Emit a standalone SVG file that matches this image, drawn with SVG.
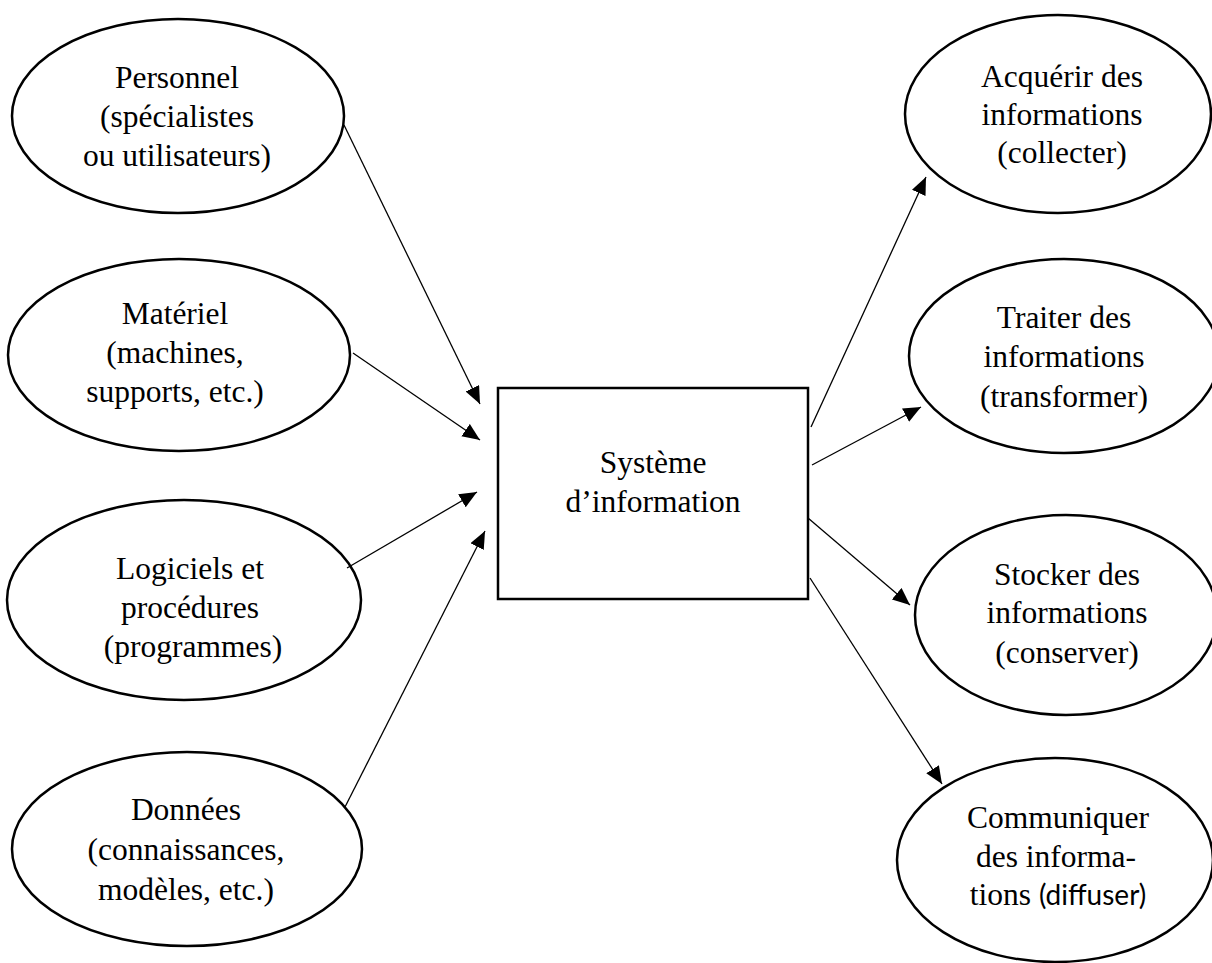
<svg xmlns="http://www.w3.org/2000/svg" width="1212" height="963" viewBox="0 0 1212 963">
  <style>
    .node { fill: #fff; stroke: #000; stroke-width: 2.5; }
    .lbl { font-family: "Liberation Serif", "Times New Roman", serif; font-size: 31.5px; fill: #000; text-anchor: middle; }
    .sans { font-family: Lato, "Liberation Sans", sans-serif; font-size: 28px; }
    .edge { stroke: #000; stroke-width: 1.3; fill: none; marker-end: url(#arrow); }
  </style>
  <defs>
    <marker id="arrow" markerUnits="userSpaceOnUse" markerWidth="19" markerHeight="16" refX="17.5" refY="7.5" orient="auto">
      <path d="M0,0 L17.5,7.5 L0,15 Z" fill="#000"/>
    </marker>
  </defs>
  <rect width="1212" height="963" fill="#fff"/>

  <!-- inputs of the system -->
  <g id="personnel">
    <ellipse class="node" cx="178" cy="116" rx="166" ry="97"/>
    <text class="lbl"><tspan x="177" y="88">Personnel</tspan><tspan x="177" y="127">(spécialistes</tspan><tspan x="177" y="166">ou utilisateurs)</tspan></text>
  </g>
  <g id="materiel">
    <ellipse class="node" cx="179" cy="355" rx="171" ry="96"/>
    <text class="lbl"><tspan x="175" y="324">Matériel</tspan><tspan x="175" y="363">(machines,</tspan><tspan x="175" y="402">supports, etc.)</tspan></text>
  </g>
  <g id="logiciels">
    <ellipse class="node" cx="184" cy="600" rx="177" ry="100"/>
    <text class="lbl"><tspan x="190" y="579">Logiciels et</tspan><tspan x="190" y="618">procédures</tspan><tspan x="193" y="657">(programmes)</tspan></text>
  </g>
  <g id="donnees">
    <ellipse class="node" cx="187" cy="849" rx="175" ry="97"/>
    <text class="lbl"><tspan x="186" y="820">Données</tspan><tspan x="186" y="860">(connaissances,</tspan><tspan x="186" y="900">modèles, etc.)</tspan></text>
  </g>

  <!-- central box -->
  <g id="systeme">
    <rect class="node" x="498" y="388" width="310" height="211"/>
    <text class="lbl"><tspan x="653" y="473">Système</tspan><tspan x="653" y="512">d’information</tspan></text>
  </g>

  <!-- functions of the system -->
  <g id="acquerir">
    <ellipse class="node" cx="1058" cy="114" rx="153" ry="99"/>
    <text class="lbl"><tspan x="1062" y="87">Acquérir des</tspan><tspan x="1062" y="125">informations</tspan><tspan x="1062" y="163">(collecter)</tspan></text>
  </g>
  <g id="traiter">
    <ellipse class="node" cx="1064" cy="356" rx="155" ry="97"/>
    <text class="lbl"><tspan x="1064" y="328">Traiter des</tspan><tspan x="1064" y="367">informations</tspan><tspan x="1064" y="407">(transformer)</tspan></text>
  </g>
  <g id="stocker">
    <ellipse class="node" cx="1066" cy="615" rx="151" ry="100"/>
    <text class="lbl"><tspan x="1067" y="585">Stocker des</tspan><tspan x="1067" y="623">informations</tspan><tspan x="1067" y="663">(conserver)</tspan></text>
  </g>
  <g id="communiquer">
    <ellipse class="node" cx="1055" cy="860" rx="158" ry="102"/>
    <text class="lbl"><tspan x="1058" y="828">Communiquer</tspan><tspan x="1056" y="867">des informa-</tspan></text>
    <text class="lbl" x="1058" y="905">tions <tspan class="sans">(diffuser)</tspan></text>
  </g>

  <!-- connectors -->
  <g id="connectors">
    <line class="edge" x1="344" y1="125" x2="480" y2="404"/>
    <line class="edge" x1="353" y1="353" x2="480" y2="440"/>
    <line class="edge" x1="347" y1="568" x2="477" y2="492"/>
    <line class="edge" x1="345" y1="807" x2="485" y2="531"/>
    <line class="edge" x1="811" y1="427" x2="926" y2="177"/>
    <line class="edge" x1="812" y1="465" x2="921" y2="407"/>
    <line class="edge" x1="808" y1="518" x2="910" y2="605"/>
    <line class="edge" x1="810" y1="578" x2="942" y2="784"/>
  </g>
</svg>
